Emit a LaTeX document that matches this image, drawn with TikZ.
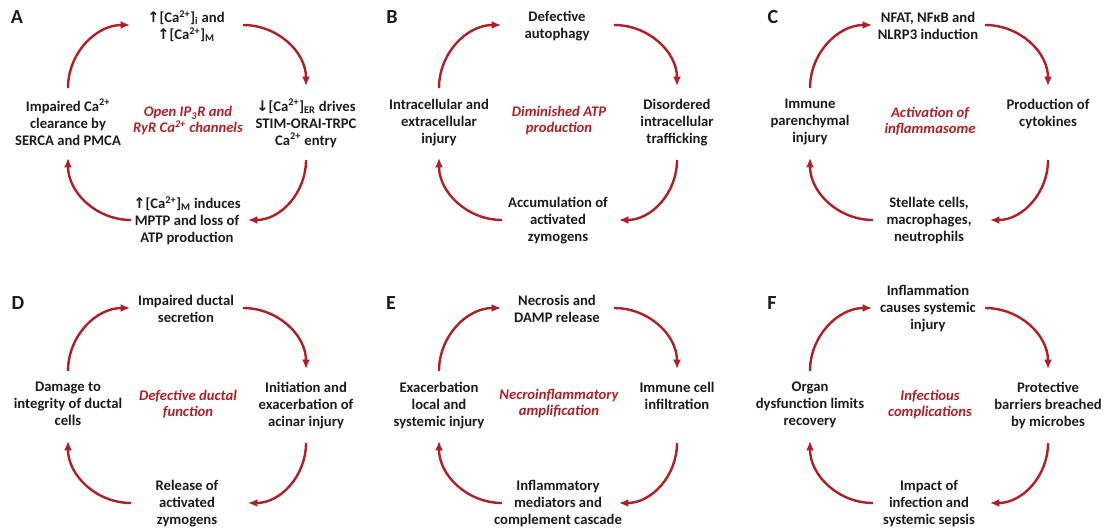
\documentclass[tikz,border=0pt]{standalone}
\usepackage{fontspec}
\setmainfont{Carlito}
\newfontfamily\arrfont{DejaVu Sans}
\usetikzlibrary{arrows.meta}
\definecolor{cred}{RGB}{178,30,38}
\definecolor{ctxt}{RGB}{28,28,28}
\newcommand{\upar}{{\arrfont\bfseries ↑}}
\newcommand{\dnar}{{\arrfont\bfseries ↓}}
\newcommand{\sps}[1]{\textsuperscript{#1}}
\newcommand{\sbs}[1]{\textsubscript{#1}}
\tikzset{
  stage/.style={font=\bfseries\fontsize{11}{12.75}\selectfont, text=ctxt, align=center, inner sep=0pt},
  hub/.style={font=\bfseries\itshape\fontsize{11}{12}\selectfont, text=cred, align=center, inner sep=0pt},
  plabel/.style={font=\bfseries\fontsize{15}{18}\selectfont, text=ctxt, inner sep=0pt},
  cyc/.style={draw=cred, line width=1.8pt, -{Latex[length=7pt,width=6pt]}},
}
\newcommand{\cycpanel}[8]{%
  \node[stage] (#1top) at ({#2+186},{#3+26}) {#4};
  \node[stage, anchor=north] (#1right) at ({#2+306},{#3+99}) {#5};
  \node[stage] (#1bottom) at ({#2+187},{#3+220.5}) {#6};
  \node[stage, anchor=north] (#1left) at ({#2+68},{#3+99}) {#7};
  \node[hub] (#1hub) at ({#2+188},{#3+121}) {#8};
  \coordinate (#1p1) at ({#2+68},{#3+88});
  \coordinate (#1p2) at ({#2+130},{#3+25});
  \coordinate (#1p3) at ({#2+243},{#3+25});
  \coordinate (#1p4) at ({#2+306},{#3+86});
  \coordinate (#1p5) at ({#2+306},{#3+160});
  \coordinate (#1p6) at ({#2+248},{#3+220});
  \coordinate (#1p7) at ({#2+131},{#3+220});
  \coordinate (#1p8) at ({#2+68},{#3+158});
  \draw[cyc] (#1p1) to[out=90,in=180] (#1p2);
  \draw[cyc] (#1p3) to[out=0,in=90] (#1p4);
  \draw[cyc] (#1p5) to[out=-90,in=0] (#1p6);
  \draw[cyc] (#1p7) to[out=180,in=-90] (#1p8);
}
\begin{document}
\begin{tikzpicture}[x=0.75pt,y=-0.75pt]
\fill[white] (0,0) rectangle (1105,528);
\useasboundingbox (0,0) rectangle (1105,528);
\node[plabel] (labA) at (17,17) {A};
\node[plabel] (labB) at (392,17) {B};
\node[plabel] (labC) at (773,17) {C};
\node[plabel] (labD) at (18,303) {D};
\node[plabel] (labE) at (391,303) {E};
\node[plabel] (labF) at (772,303) {F};
\cycpanel{a}{0}{0}
  {\upar[Ca\sps{2+}]\sbs{i} and\\\upar[Ca\sps{2+}]\sbs{M}}
  {\dnar[Ca\sps{2+}]\sbs{ER} drives\\STIM-ORAI-TRPC\\Ca\sps{2+} entry}
  {\upar[Ca\sps{2+}]\sbs{M} induces\\MPTP and loss of\\ATP production}
  {Impaired Ca\sps{2+}\\clearance by\\SERCA and PMCA}
  {Open IP\sbs{3}R and\\RyR Ca\sps{2+} channels}
\cycpanel{b}{371}{0}
  {Defective\\autophagy}
  {Disordered\\intracellular\\trafficking}
  {Accumulation of\\activated\\zymogens}
  {Intracellular and\\extracellular\\injury}
  {Diminished ATP\\production}
\cycpanel{c}{742}{0}
  {NFAT, NFκB and\\NLRP3 induction}
  {Production of\\cytokines}
  {Stellate cells,\\macrophages,\\neutrophils}
  {Immune\\parenchymal\\injury}
  {Activation of\\inflammasome}
\cycpanel{d}{0}{283}
  {Impaired ductal\\secretion}
  {Initiation and\\exacerbation of\\acinar injury}
  {Release of\\activated\\zymogens}
  {Damage to\\integrity of ductal\\cells}
  {Defective ductal\\function}
\cycpanel{e}{371}{283}
  {Necrosis and\\DAMP release}
  {Immune cell\\infiltration}
  {Inflammatory\\mediators and\\complement cascade}
  {Exacerbation\\local and\\systemic injury}
  {Necroinflammatory\\amplification}
\cycpanel{f}{742}{283}
  {Inflammation\\causes systemic\\injury}
  {Protective\\barriers breached\\by microbes}
  {Impact of\\infection and\\systemic sepsis}
  {Organ\\dysfunction limits\\recovery}
  {Infectious\\complications}
\end{tikzpicture}
\end{document}
